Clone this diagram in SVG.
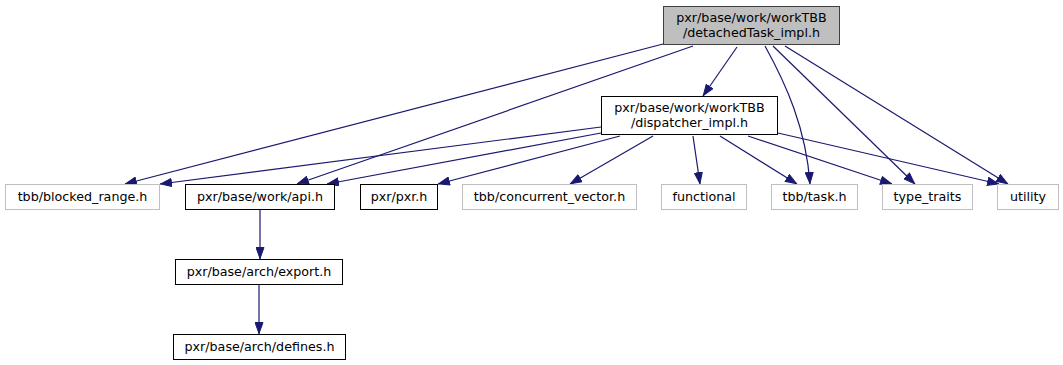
<svg xmlns="http://www.w3.org/2000/svg" width="1063" height="365" viewBox="0 0 1063 365">
<style>
text{font-family:"DejaVu Sans","Liberation Sans",sans-serif;font-size:12.7px;fill:#000;text-anchor:middle}
.n rect{fill:#fff;stroke:#000;stroke-width:1}
.g rect{fill:#fff;stroke:#bfbfbf;stroke-width:1}
.r rect{fill:#bfbfbf;stroke:#404040;stroke-width:1}
#edges path{fill:none;stroke:#191970;stroke-width:1.2;marker-end:url(#ah)}
</style>
<defs>
<marker id="ah" viewBox="0 0 12 9" refX="12" refY="4.5" markerWidth="12" markerHeight="9" orient="auto" markerUnits="userSpaceOnUse">
<path d="M0.5,0.5 L11.5,4.5 L0.5,8.5 z" fill="#191970" stroke="#191970" stroke-width="1"/>
</marker>
</defs>
<rect width="1063" height="365" fill="#fff"/>
<g id="edges">
<path d="M663,44 L125,184"/>
<path d="M693,46 L297,184"/>
<path d="M601,127 L160,184"/>
<path d="M601,133 L327,184"/>
<path d="M620,136 L438,184"/>
<path d="M653,136 L570,184"/>
<path d="M737,47 L703,96"/>
<path d="M693,136 L700,184"/>
<path d="M720,136 L797,184"/>
<path d="M765,46 C786,84 806,128 810,184"/>
<path d="M748,136 L892,184"/>
<path d="M773,46 L915,184"/>
<path d="M778,133 L999,184"/>
<path d="M785,46 L1008,184"/>
<path d="M260,210 L260,259"/>
<path d="M259,284 L259,334"/>
</g>
<g id="detached" class="r"><rect x="663.5" y="6.5" width="176" height="38"/><text x="751.5" y="22">pxr/base/work/workTBB</text><text x="751.5" y="37">/detachedTask_impl.h</text></g>
<g id="dispatcher" class="n"><rect x="601.5" y="96.5" width="176" height="38"/><text x="689.5" y="112">pxr/base/work/workTBB</text><text x="689.5" y="127">/dispatcher_impl.h</text></g>
<g id="blocked_range" class="g"><rect x="5.5" y="184.5" width="154" height="25"/><text x="82.5" y="201">tbb/blocked_range.h</text></g>
<g id="api" class="n"><rect x="185.5" y="184.5" width="149" height="25"/><text x="260" y="201">pxr/base/work/api.h</text></g>
<g id="pxr" class="n"><rect x="360.5" y="184.5" width="77" height="25"/><text x="399" y="201">pxr/pxr.h</text></g>
<g id="concurrent_vector" class="g"><rect x="462.5" y="184.5" width="174" height="25"/><text x="549.5" y="201">tbb/concurrent_vector.h</text></g>
<g id="functional" class="g"><rect x="661.5" y="184.5" width="85" height="25"/><text x="704" y="201">functional</text></g>
<g id="task" class="g"><rect x="771.5" y="184.5" width="86" height="25"/><text x="814.5" y="201">tbb/task.h</text></g>
<g id="type_traits" class="g"><rect x="882.5" y="184.5" width="90" height="25"/><text x="927.5" y="201">type_traits</text></g>
<g id="utility" class="g"><rect x="997.5" y="184.5" width="61" height="25"/><text x="1028" y="201">utility</text></g>
<g id="export" class="n"><rect x="175.5" y="259.5" width="167" height="25"/><text x="259" y="276">pxr/base/arch/export.h</text></g>
<g id="defines" class="n"><rect x="173.5" y="334.5" width="172" height="25"/><text x="259.5" y="351">pxr/base/arch/defines.h</text></g>
</svg>
